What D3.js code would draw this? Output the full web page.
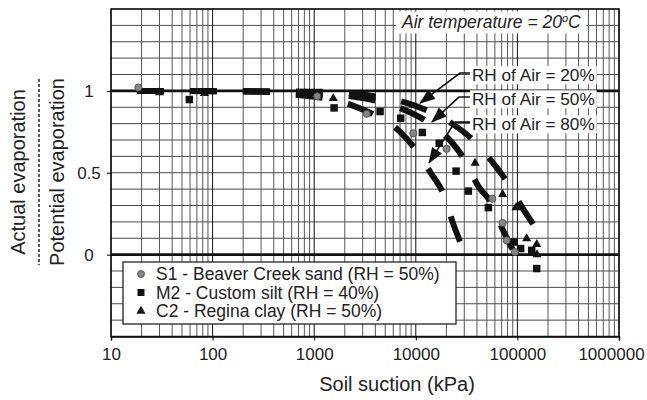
<!DOCTYPE html>
<html>
<head>
<meta charset="utf-8">
<script src="https://cdn.jsdelivr.net/npm/d3@7"></script>
<style>
body { margin: 0; background: #fff; }
svg { display: block; font-family: "Liberation Sans", Arial, sans-serif; }
</style>
</head>
<body>
<div id="chart"></div>
<script>
let width = 647;
let height = 400;

// Axis labels
let xLabels = [10, 100, 1000, 10000, 100000, 1000000];
let yLabels = [0, 0.5, 1];

// Dashed model curves: [soil suction kPa, AE/PE]
let rh20Curve = [[18, 1], [300, 0.998], [1000, 0.995], [2400, 0.985], [4000, 0.965], [7800, 0.93], [13000, 0.88],
    [22700, 0.8], [38000, 0.69], [56000, 0.57], [80000, 0.44], [111000, 0.29], [155000, 0.15], [180000, 0.08]];
let rh50Curve = [[18, 1], [300, 0.996], [1000, 0.985], [2400, 0.965], [4000, 0.94], [8000, 0.88], [13800, 0.8],
    [23000, 0.68], [30500, 0.575], [41000, 0.42], [56000, 0.31], [72000, 0.15], [90000, 0.03]];
let rh80Curve = [[18, 1], [300, 0.995], [700, 0.975], [1000, 0.965], [2400, 0.91], [4000, 0.85], [7000, 0.75],
    [10000, 0.64], [14000, 0.5], [19000, 0.36], [23000, 0.2], [28500, 0.05]];

// Measured points
let s1Points = [[18.6, 1.02], [1070, 0.967], [3290, 0.86], [9440, 0.741], [20100, 0.646], [56600, 0.341],
    [71600, 0.193], [78500, 0.087], [94600, 0.016]];
let m2Points = [[59, 0.947], [1570, 0.896], [4450, 0.874], [7100, 0.833], [11600, 0.746], [17000, 0.68],
    [24900, 0.51], [32900, 0.388], [51800, 0.287], [93300, 0.077], [107700, 0.037], [138400, 0.026], [155000, -0.085]];
let c2Points = [[30, 0.99], [83, 0.985], [1540, 0.955], [38300, 0.559], [71600, 0.368], [96800, 0.287],
    [123300, 0.098], [155000, 0.063], [156000, 0.0]];

let legendLabels = ["S1 - Beaver Creek sand (RH = 50%)", "M2 - Custom silt (RH = 40%)", "C2 - Regina clay (RH = 50%)"];

// Annotations: label start, elbow, arrow tip (data units)
let rhLabels = ["RH of Air = 20%", "RH of Air = 50%", "RH of Air = 80%"];
let rhLabelAt = [[35700, 1.097], [35700, 0.95], [35700, 0.797]];
let rhElbow = [[27200, 1.097], [26600, 0.95], [24300, 0.797]];
let rhTip = [[11000, 0.925], [14400, 0.81], [13500, 0.56]];

let svg = d3.select("#chart")
    .append("svg")
    .attr("width", width)
    .attr("height", height);

let x = d3.scaleLog().domain([10, 1e6]).range([111, 619]);
let y = d3.scaleLinear().domain([-0.5, 1.5]).range([336.5, 9]);

let isDecade = d => Math.abs(Math.log10(d) - Math.round(Math.log10(d))) < 1e-9;

// Grid
let grid = svg.append("g");
grid.selectAll(".hy")
    .data(d3.range(-5, 16).map(i => i / 10))
    .join("line")
    .attr("x1", x(10)).attr("x2", x(1e6))
    .attr("y1", d => y(d)).attr("y2", d => y(d))
    .attr("stroke", "#4a4a4a")
    .attr("stroke-width", 1);

grid.selectAll(".vx")
    .data(x.ticks())
    .join("line")
    .attr("x1", d => x(d)).attr("x2", d => x(d))
    .attr("y1", y(1.5)).attr("y2", y(-0.5))
    .attr("stroke", d => isDecade(d) ? "#111" : "#555")
    .attr("stroke-width", 1);

// Frame
svg.append("rect")
    .attr("x", x(10)).attr("y", y(1.5))
    .attr("width", x(1e6) - x(10)).attr("height", y(-0.5) - y(1.5))
    .attr("fill", "none").attr("stroke", "#111").attr("stroke-width", 1.5);

// Thick lines at 0 and 1
svg.selectAll(".ref")
    .data([0, 1])
    .join("line")
    .attr("x1", x(10)).attr("x2", x(1e6))
    .attr("y1", d => y(d)).attr("y2", d => y(d))
    .attr("stroke", "#111")
    .attr("stroke-width", 2.6);

// Axes
let xAxis = d3.axisBottom(x)
    .tickValues(xLabels)
    .tickSize(4)
    .tickFormat(d3.format("d"));

let gx = svg.append("g")
    .attr("transform", "translate(0," + y(-0.5) + ")")
    .call(xAxis);
gx.select(".domain").attr("stroke", "#111").attr("stroke-width", 1.5);
gx.selectAll("text")
    .attr("font-family", "Liberation Sans, Arial, sans-serif")
    .attr("font-size", 17)
    .attr("fill", "#222")
    .attr("y", 11)
    .attr("dx", d => d === 1000000 ? -8 : 0);

let yAxis = d3.axisLeft(y)
    .tickValues(yLabels)
    .tickSize(4)
    .tickFormat(d => String(d));

let gy = svg.append("g")
    .attr("transform", "translate(" + x(10) + ",0)")
    .call(yAxis);
gy.select(".domain").remove();
gy.selectAll("text")
    .attr("font-family", "Liberation Sans, Arial, sans-serif")
    .attr("font-size", 17)
    .attr("fill", "#222")
    .attr("text-anchor", "middle")
    .attr("x", -22);

// Dashed curves
let line = d3.line()
    .x(d => x(d[0]))
    .y(d => y(d[1]))
    .curve(d3.curveMonotoneX);

svg.selectAll(".curve")
    .data([rh80Curve, rh50Curve, rh20Curve])
    .join("path")
    .attr("d", line)
    .attr("fill", "none")
    .attr("stroke", "#111")
    .attr("stroke-width", 6)
    .attr("stroke-dasharray", "27,26");

// Points
let pts = svg.append("g");
pts.selectAll(".m2")
    .data(m2Points)
    .join("path")
    .attr("d", d3.symbol(d3.symbolSquare, 56))
    .attr("transform", d => "translate(" + x(d[0]) + "," + y(d[1]) + ")")
    .attr("fill", "#111");

pts.selectAll(".c2")
    .data(c2Points)
    .join("path")
    .attr("d", d3.symbol(d3.symbolTriangle, 36))
    .attr("transform", d => "translate(" + x(d[0]) + "," + y(d[1]) + ")")
    .attr("fill", "#111");

pts.selectAll(".s1")
    .data(s1Points)
    .join("circle")
    .attr("cx", d => x(d[0]))
    .attr("cy", d => y(d[1]))
    .attr("r", 3.6)
    .attr("fill", "#858585")
    .attr("stroke", "#444")
    .attr("stroke-width", 0.8);

// Legend
let legend = svg.append("g").attr("transform", "translate(123,262)");
legend.append("rect")
    .attr("width", 333).attr("height", 62)
    .attr("fill", "#fff").attr("stroke", "#111").attr("stroke-width", 1.2);

let legendRows = legend.selectAll(".row")
    .data(legendLabels)
    .join("g")
    .attr("transform", (d, i) => "translate(0," + (12 + i * 18.5) + ")");

legendRows.append("text")
    .attr("x", 33)
    .attr("dy", "0.36em")
    .attr("font-size", 17.5)
    .attr("fill", "#222")
    .text(d => d);

legendRows.filter((d, i) => i === 0).append("circle")
    .attr("cx", 18).attr("r", 3.5)
    .attr("fill", "#858585").attr("stroke", "#444").attr("stroke-width", 0.8);
legendRows.filter((d, i) => i === 1).append("path")
    .attr("d", d3.symbol(d3.symbolSquare, 49))
    .attr("transform", "translate(18,0)").attr("fill", "#111");
legendRows.filter((d, i) => i === 2).append("path")
    .attr("d", d3.symbol(d3.symbolTriangle, 36))
    .attr("transform", "translate(18,0)").attr("fill", "#111");

// Air temperature note
let note = svg.append("g");
let noteText = note.append("text")
    .attr("x", x(7310))
    .attr("y", y(1.42))
    .attr("dy", "0.36em")
    .attr("font-size", 17.5)
    .attr("font-style", "italic")
    .attr("fill", "#222");
noteText.append("tspan").text("Air temperature = 20");
noteText.append("tspan").attr("font-size", 11).attr("dy", -6).text("o");
noteText.append("tspan").attr("dy", 6).text("C");
let nb = noteText.node().getBBox();
note.insert("rect", "text")
    .attr("x", nb.x - 5).attr("y", nb.y - 1)
    .attr("width", nb.width + 10).attr("height", nb.height + 2)
    .attr("fill", "#fff");

// RH labels with arrows
svg.append("defs").append("marker")
    .attr("id", "arrow")
    .attr("markerUnits", "userSpaceOnUse")
    .attr("markerWidth", 16).attr("markerHeight", 12)
    .attr("refX", 15).attr("refY", 6)
    .attr("orient", "auto")
    .append("path")
    .attr("d", "M0,0L16,6L0,12Z")
    .attr("fill", "#111");

rhLabels.forEach((lab, i) => {
    let g = svg.append("g");
    let t = g.append("text")
        .attr("x", x(rhLabelAt[i][0]))
        .attr("y", y(rhLabelAt[i][1]))
        .attr("dy", "0.36em")
        .attr("font-size", 17.2)
        .attr("fill", "#222")
        .text(lab);
    let b = t.node().getBBox();
    g.insert("rect", "text")
        .attr("x", b.x - 2).attr("y", b.y + 1)
        .attr("width", b.width + 4).attr("height", b.height - 2)
        .attr("fill", "#fff");
    g.append("polyline")
        .attr("points", [
            [x(rhLabelAt[i][0]) - 2, y(rhLabelAt[i][1]) - 2],
            [x(rhElbow[i][0]), y(rhElbow[i][1]) - 2],
            [x(rhTip[i][0]), y(rhTip[i][1])]
        ].map(p => p.join(",")).join(" "))
        .attr("fill", "none")
        .attr("stroke", "#111")
        .attr("stroke-width", 1.6)
        .attr("marker-end", "url(#arrow)");
});

// Axis titles
svg.append("text")
    .attr("x", 397).attr("y", 391)
    .attr("text-anchor", "middle")
    .attr("font-size", 20)
    .attr("fill", "#222")
    .text("Soil suction (kPa)");

svg.append("text")
    .attr("transform", "translate(18,172) rotate(-90)")
    .attr("text-anchor", "middle")
    .attr("dy", "0.35em")
    .attr("font-size", 20)
    .attr("fill", "#222")
    .text("Actual evaporation");

svg.append("text")
    .attr("transform", "translate(57,172) rotate(-90)")
    .attr("text-anchor", "middle")
    .attr("dy", "0.35em")
    .attr("font-size", 20)
    .attr("fill", "#222")
    .text("Potential evaporation");

svg.append("line")
    .attr("x1", 39).attr("x2", 39)
    .attr("y1", 79).attr("y2", 265)
    .attr("stroke", "#222")
    .attr("stroke-width", 1.5)
    .attr("stroke-dasharray", "3,2");
</script>
</body>
</html>
